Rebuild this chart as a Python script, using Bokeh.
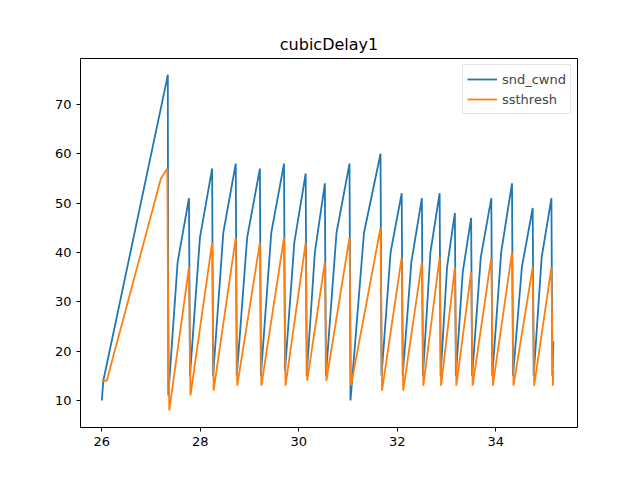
from bokeh.plotting import figure
from bokeh.models import FixedTicker, Range1d
from bokeh.embed import file_html
from bokeh.resources import INLINE

# snd_cwnd: peak times / values per cycle, trough after each drop
peak_x = [27.77, 28.24, 28.72, 29.21, 29.70, 30.14, 30.53, 31.03, 31.66,
          32.09, 32.50, 32.86, 33.17, 33.50, 33.91, 34.33, 34.75, 35.13]
cwnd_peak = [51, 57, 58, 57, 58, 56, 54, 58, 60, 52, 51, 52, 48, 47, 51, 54, 49, 51]
cwnd_trough = [15, 15, 15, 15, 16, 15, 15, 10, 15, 15, 15, 15, 15, 15, 15, 15, 15, 15]
# values part-way up each climb (cubic growth is fast early)
cwnd_mid = [38, 43, 44, 43, 44, 42, 40, 44, 44, 40, 38, 40, 37, 36, 39, 40, 37, 39]
ssth_peak = [37, 42, 43, 42, 43, 42, 38, 43, 45, 39, 38, 39, 37, 36, 39, 40, 37, 37]
ssth_trough = [11, 12, 13, 13, 13, 14, 14, 13, 12, 12, 13, 13, 13, 13, 13, 13, 13, 13]

# slow-start phase
start_cwnd_x = [26.0, 26.03, 27.30, 27.34, 27.35]
start_cwnd_y = [10, 14, 74, 76, 11]
start_ssth_x = [26.0, 26.1, 27.2, 27.33, 27.34, 27.37]
start_ssth_y = [14, 14, 55, 57, 38, 8]
end_cwnd = (35.17, 22)
end_ssth = (35.17, 16)

cx, cy = list(start_cwnd_x), list(start_cwnd_y)
sx, sy = list(start_ssth_x), list(start_ssth_y)
prev = start_cwnd_x[-1]
for i, px in enumerate(peak_x):
    cx += [prev + (px - prev) * 0.45, px, px + 0.02]
    cy += [cwnd_mid[i], cwnd_peak[i], cwnd_trough[i]]
    sx += [px, px + 0.03]
    sy += [ssth_peak[i], ssth_trough[i]]
    prev = px + 0.02
cx.append(end_cwnd[0]); cy.append(end_cwnd[1])
sx.append(end_ssth[0]); sy.append(end_ssth[1])

p = figure(width=636, height=476, output_backend="svg", toolbar_location=None,
           title="cubicDelay1",
           x_range=Range1d(25.567, 35.66), y_range=Range1d(4.53, 79.3),
           min_border_left=80, min_border_right=59, min_border_top=58,
           min_border_bottom=49)
p.title.align = "center"
p.title.text_font = "DejaVu Sans"
p.title.text_font_size = "16px"
p.title.text_font_style = "normal"
p.title.text_color = "black"

p.line(cx, cy, color="#1f77b4", line_width=1.8, legend_label="snd_cwnd")
p.line(sx, sy, color="#ff7f0e", line_width=1.8, legend_label="ssthresh")

p.xaxis.ticker = FixedTicker(ticks=[26, 28, 30, 32, 34])
p.yaxis.ticker = FixedTicker(ticks=[10, 20, 30, 40, 50, 60, 70])
for ax in (p.xaxis, p.yaxis):
    ax.major_label_text_font = "DejaVu Sans"
    ax.major_label_text_font_size = "13px"
    ax.major_label_text_color = "black"
    ax.minor_tick_line_color = None
    ax.axis_line_color = None
    ax.major_tick_in = 0
    ax.major_tick_out = 4
p.grid.visible = False
p.outline_line_color = "black"
p.outline_line_width = 1

p.legend.location = "top_right"
p.legend.label_text_font = "DejaVu Sans"
p.legend.label_text_font_size = "13px"
p.legend.border_line_color = "#cccccc"
p.legend.spacing = 0
p.legend.padding = 4
p.legend.margin = 6
p.legend.glyph_width = 30

open("out.html", "w").write(file_html(p, INLINE))
